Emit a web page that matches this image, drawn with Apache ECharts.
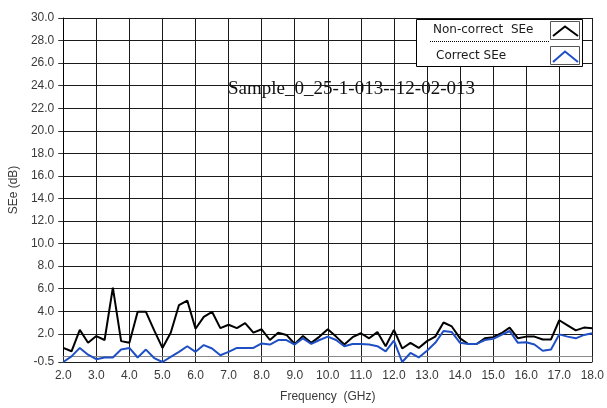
<!DOCTYPE html>
<html>
<head>
<meta charset="utf-8">
<title>SEe vs Frequency</title>
<script src="https://cdn.jsdelivr.net/npm/echarts@6/dist/echarts.min.js"></script>
<style>
  html, body { margin: 0; padding: 0; background: #ffffff; }
  #chart { width: 607px; height: 408px; }
</style>
</head>
<body>
<div id="chart"></div>
<script>
// Measurement frequencies (GHz)
const freqGHz = [
  2.0, 2.25, 2.5, 2.75, 3.0, 3.25, 3.5, 3.75, 4.0, 4.25, 4.5, 4.75,
  5.0, 5.25, 5.5, 5.75, 6.0, 6.25, 6.5, 6.75, 7.0, 7.25, 7.5, 7.75,
  8.0, 8.25, 8.5, 8.75, 9.0, 9.25, 9.5, 9.75, 10.0, 10.25, 10.5, 10.75,
  11.0, 11.25, 11.5, 11.75, 12.0, 12.25, 12.5, 12.75, 13.0, 13.25, 13.5, 13.75,
  14.0, 14.25, 14.5, 14.75, 15.0, 15.25, 15.5, 15.75, 16.0, 16.25, 16.5, 16.75,
  17.0, 17.25, 17.5, 17.75, 18.0
];

// Shielding effectiveness without correction (dB)
const nonCorrectSEe = [
  0.75, 0.45, 2.35, 1.2, 1.8, 1.45, 6.1, 1.35, 1.2, 3.95, 3.95, 2.3,
  0.75, 2.1, 4.55, 4.95, 2.45, 3.5, 3.95, 2.5, 2.8, 2.5, 2.95, 2.1,
  2.4, 1.45, 2.1, 1.9, 1.1, 1.8, 1.2, 1.75, 2.4, 1.75, 1.05, 1.7,
  2.05, 1.6, 2.15, 0.9, 2.35, 0.7, 1.2, 0.75, 1.35, 1.75, 3.0, 2.65,
  1.6, 1.1, 1.1, 1.6, 1.7, 2.05, 2.55, 1.6, 1.75, 1.75, 1.5, 1.5,
  3.2, 2.75, 2.3, 2.55, 2.5
];

// Shielding effectiveness after correction (dB)
const correctSEe = [
  -0.5, 0.0, 0.75, 0.15, -0.25, -0.1, -0.1, 0.6, 0.75, -0.1, 0.6, -0.15,
  -0.5, -0.05, 0.4, 0.9, 0.4, 1.0, 0.7, 0.1, 0.4, 0.75, 0.75, 0.75,
  1.15, 1.05, 1.45, 1.45, 1.05, 1.6, 1.1, 1.45, 1.75, 1.45, 0.9, 1.1,
  1.1, 1.05, 0.9, 0.45, 1.4, -0.5, 0.3, -0.1, 0.5, 1.2, 2.25, 2.15,
  1.2, 1.1, 1.1, 1.45, 1.55, 1.9, 2.25, 1.2, 1.25, 1.05, 0.5, 0.6,
  1.95, 1.75, 1.6, 1.9, 2.05
];

// Y axis tick positions (dB)
const yTickValues = [-0.5, 2.0, 4.0, 6.0, 8.0, 10.0, 12.0, 14.0, 16.0, 18.0, 20.0, 22.0, 24.0, 26.0, 28.0, 30.0];

const seriesNames = ['Non-correct  SEe', 'Correct SEe'];
const chartTitle = 'Sample_0_25-1-013--12-02-013';

const LINE_BLACK = '#000000';
const LINE_BLUE = '#1f4fc4';
const LABEL_FONT = 'Liberation Sans';
const LABEL_COLOR = '#3a3a3a';

const pairs = (ys) => freqGHz.map((f, i) => [f, ys[i]]);

const chart = echarts.init(document.getElementById('chart'), null, { renderer: 'canvas' });

chart.setOption({
  animation: false,
  backgroundColor: '#ffffff',
  title: {
    text: chartTitle,
    left: 228,
    top: 80,
    padding: 0,
    textStyle: {
      fontFamily: 'Liberation Serif',
      fontWeight: 'normal',
      fontSize: 19,
      color: '#111111'
    }
  },
  grid: {
    left: 59,
    right: 11,
    top: 18,
    bottom: 44,
    containLabel: false
  },
  xAxis: {
    type: 'value',
    min: 2,
    max: 18,
    interval: 1,
    name: 'Frequency  (GHz)',
    nameLocation: 'middle',
    nameGap: 29,
    nameTextStyle: { fontFamily: LABEL_FONT, fontSize: 12, color: LABEL_COLOR },
    axisLine: { show: true, lineStyle: { color: '#000000', width: 1 } },
    axisTick: { show: true, inside: false, length: 5, lineStyle: { color: '#333333' } },
    axisLabel: {
      margin: 8,
      fontFamily: LABEL_FONT,
      fontSize: 12,
      color: LABEL_COLOR,
      formatter: (v) => v.toFixed(1)
    },
    splitLine: { show: true, lineStyle: { color: '#1a1a1a', width: 1 } }
  },
  yAxis: {
    type: 'value',
    min: -0.5,
    max: 30,
    name: 'SEe (dB)',
    nameLocation: 'middle',
    nameGap: 39,
    nameTextStyle: { fontFamily: LABEL_FONT, fontSize: 12, color: LABEL_COLOR },
    axisLine: { show: true, lineStyle: { color: '#000000', width: 1 } },
    axisTick: {
      show: true, inside: false, length: 5,
      customValues: yTickValues,
      lineStyle: { color: '#333333' }
    },
    axisLabel: {
      margin: 9,
      fontFamily: LABEL_FONT,
      fontSize: 12,
      color: LABEL_COLOR,
      customValues: yTickValues,
      formatter: (v) => v.toFixed(1)
    },
    splitLine: { show: true, lineStyle: { color: '#1a1a1a', width: 1 } }
  },
  series: [
    {
      name: seriesNames[0],
      type: 'line',
      data: pairs(nonCorrectSEe),
      symbol: 'none',
      lineStyle: { color: LINE_BLACK, width: 2 },
      itemStyle: { color: LINE_BLACK },
      z: 3
    },
    {
      name: seriesNames[1],
      type: 'line',
      data: pairs(correctSEe),
      symbol: 'none',
      lineStyle: { color: LINE_BLUE, width: 2 },
      itemStyle: { color: LINE_BLUE },
      z: 4,
      markLine: {
        silent: true,
        symbol: 'none',
        label: { show: false },
        lineStyle: { color: '#8a8a8a', width: 1, type: 'solid' },
        data: [{ yAxis: 0 }],
        z: 1
      }
    }
  ],
  graphic: [
    // legend frame
    {
      type: 'rect', z: 100,
      shape: { x: 416.5, y: 19.5, width: 166, height: 47 },
      style: { fill: '#ffffff', stroke: '#000000', lineWidth: 1 }
    },
    {
      type: 'line', z: 101,
      shape: { x1: 430, y1: 41.5, x2: 549, y2: 41.5 },
      style: { stroke: '#000000', lineWidth: 1, lineDash: [1, 1] }
    },
    {
      type: 'text', z: 101, left: 433, top: 24,
      style: { text: seriesNames[0], font: '12px "DejaVu Sans"', fill: '#1a1a1a' }
    },
    {
      type: 'text', z: 101, left: 436, top: 50,
      style: { text: seriesNames[1], font: '12px "DejaVu Sans"', fill: '#1a1a1a' }
    },
    // legend swatches
    {
      type: 'rect', z: 101,
      shape: { x: 550.5, y: 21.5, width: 29, height: 18 },
      style: { fill: '#ffffff', stroke: '#555555', lineWidth: 1 }
    },
    {
      type: 'rect', z: 101,
      shape: { x: 550.5, y: 46.5, width: 29, height: 18 },
      style: { fill: '#ffffff', stroke: '#555555', lineWidth: 1 }
    },
    {
      type: 'polyline', z: 102,
      shape: { points: [[553, 36], [565, 26.5], [578, 36]] },
      style: { stroke: LINE_BLACK, lineWidth: 2, fill: null }
    },
    {
      type: 'polyline', z: 102,
      shape: { points: [[553, 62], [565, 51.5], [578, 62]] },
      style: { stroke: LINE_BLUE, lineWidth: 2, fill: null }
    }
  ]
});
</script>
</body>
</html>
